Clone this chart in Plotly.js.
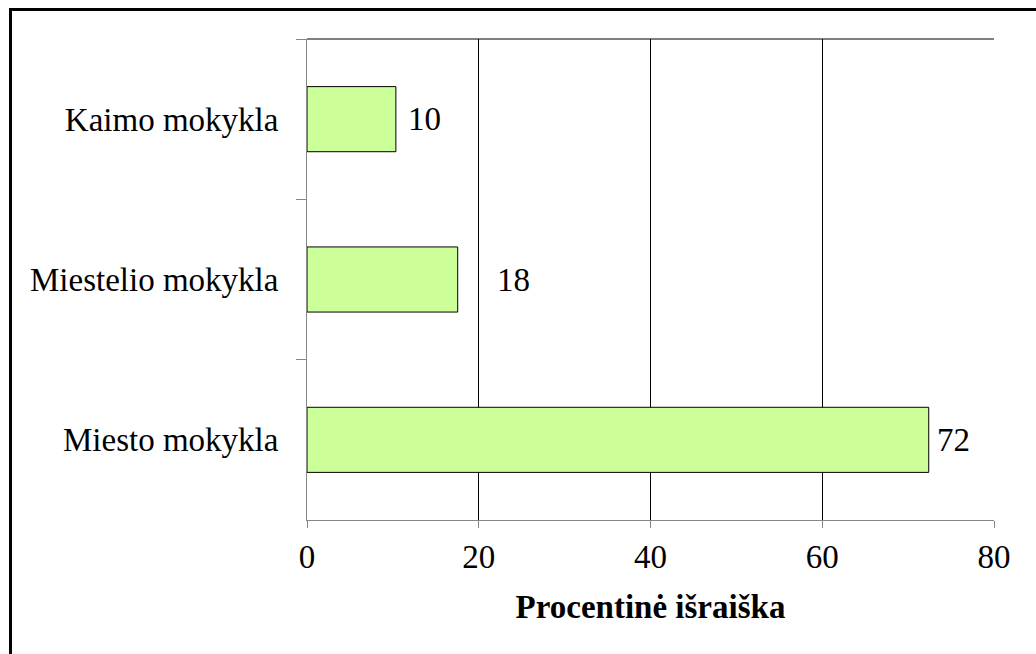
<!DOCTYPE html>
<html>
<head>
<meta charset="utf-8">
<script src="https://cdn.plot.ly/plotly-3.0.1.min.js"></script>
<style>
  html, body { margin: 0; padding: 0; background: #fff; }
  #chart { width: 1036px; height: 654px; }
  #frame { position: absolute; left: 9px; top: 8px; width: 1100px; height: 700px;
           border-left: 3px solid #000; border-top: 3px solid #000; pointer-events: none; }
</style>
</head>
<body>
<div id="chart"></div>
<div id="frame"></div>
<script>
// Data (top to bottom)
const categories = ["Kaimo mokykla", "Miestelio mokykla", "Miesto mokykla"];
const values = [10.35, 17.55, 72.4];
const valueLabels = ["10", "18", "72"];
const xTickValues = [0, 20, 40, 60, 80];
const xAxisTitle = "Procentinė išraiška";

const FONT = "Liberation Serif";
const labelShift = [10, 37, 6];

const trace = {
  type: "bar",
  orientation: "h",
  x: values,
  y: categories,
  marker: { color: "#CCFF99", line: { color: "#000000", width: 1 } },
  hoverinfo: "skip"
};

const annotations = categories.map((c, i) => ({
  x: values[i], y: c, xref: "x", yref: "y",
  text: valueLabels[i], showarrow: false,
  xanchor: "left", yanchor: "middle", xshift: labelShift[i],
  font: { family: FONT, size: 33, color: "#000" }
}));

const layout = {
  width: 1036, height: 654,
  margin: { l: 307, r: 42, t: 39, b: 134 },
  paper_bgcolor: "#fff", plot_bgcolor: "#fff",
  showlegend: false,
  bargap: 0.594,
  font: { family: FONT, size: 33, color: "#000" },
  xaxis: {
    range: [0, 80],
    tickvals: xTickValues,
    ticktext: xTickValues.map(String),
    showgrid: true, gridcolor: "#000", gridwidth: 1,
    zeroline: false,
    showline: true, linecolor: "#868686", linewidth: 1,
    ticks: "outside", ticklen: 7, tickcolor: "#868686",
    ticklabelstandoff: 0,
    tickfont: { family: FONT, size: 33, color: "#000" },
    title: { text: xAxisTitle, standoff: 21,
             font: { family: FONT, size: 33, color: "#000", weight: "bold" } },
    fixedrange: true
  },
  yaxis: {
    type: "category",
    autorange: "reversed",
    showgrid: false, zeroline: false,
    showline: true, linecolor: "#868686", linewidth: 1,
    ticks: "outside", ticklen: 10, tickcolor: "#868686",
    tickson: "boundaries",
    ticklabelstandoff: 21,
    tickfont: { family: FONT, size: 33, color: "#000" },
    fixedrange: true
  },
  shapes: [
    { type: "line", xref: "paper", yref: "paper", x0: 0, x1: 1, y0: 1, y1: 1,
      line: { color: "#000", width: 1 } }
  ],
  annotations: annotations
};

Plotly.newPlot("chart", [trace], layout, { displayModeBar: false, staticPlot: true });
</script>
</body>
</html>
